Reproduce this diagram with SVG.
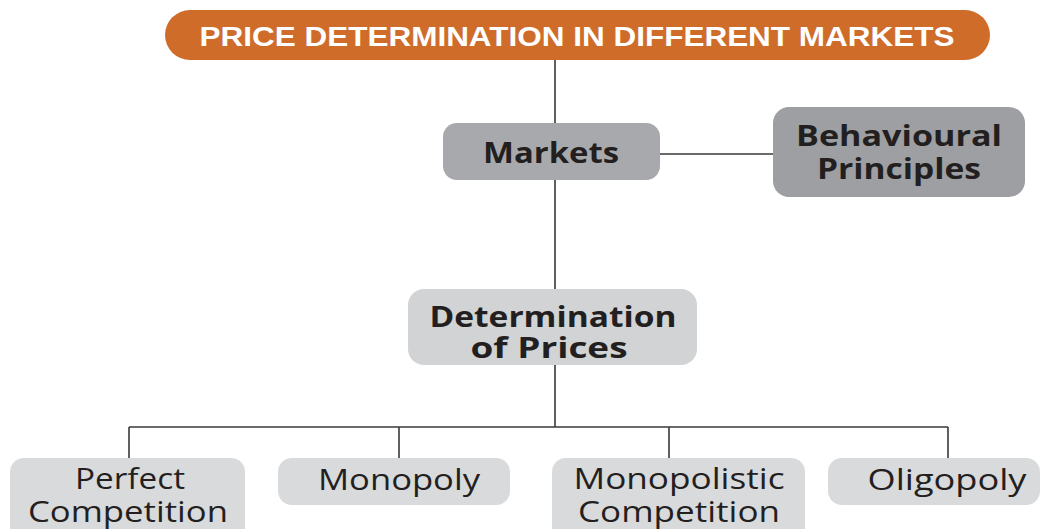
<svg xmlns="http://www.w3.org/2000/svg" width="1055" height="529" viewBox="0 0 1055 529">
<style>
.ln{stroke:#3a3a3a;stroke-width:1.6;fill:none}
.b{font-family:"Open Sans","Noto Sans",sans-serif;font-weight:bold;fill:#231f20;text-anchor:middle;font-size:29px}
.r{font-family:"Open Sans","Noto Sans",sans-serif;fill:#231f20;text-anchor:middle;font-size:30px}
</style>
<rect width="1055" height="529" fill="#ffffff"/>
<g id="connectors">
<path class="ln" d="M555 60V123M660 154H773M555 180V289M555 365V427M129 427H948M129 427V458M399 427V458M669 427V458M948 427V458"/>
</g>
<g id="title">
<rect x="165" y="10" width="825" height="50" rx="25" fill="#cf6c2a"/>
<text x="577" y="46" font-family="Liberation Sans,Arial,sans-serif" font-weight="bold" font-size="27" fill="#ffffff" text-anchor="middle" textLength="755" lengthAdjust="spacingAndGlyphs">PRICE DETERMINATION IN DIFFERENT MARKETS</text>
</g>
<g id="markets">
<rect x="443" y="123" width="217" height="57" rx="14" fill="#a7a9ac"/>
<text class="b" x="551" y="163" textLength="136" lengthAdjust="spacingAndGlyphs">Markets</text>
</g>
<g id="behavioural">
<rect x="773" y="107" width="252" height="90" rx="16" fill="#9d9fa2"/>
<text class="b" x="899" y="146" textLength="206" lengthAdjust="spacingAndGlyphs">Behavioural</text>
<text class="b" x="899" y="179" textLength="164" lengthAdjust="spacingAndGlyphs">Principles</text>
</g>
<g id="determination">
<rect x="408" y="289" width="289" height="76" rx="16" fill="#d1d3d4"/>
<text class="b" x="553" y="327" textLength="247" lengthAdjust="spacingAndGlyphs">Determination</text>
<text class="b" x="549" y="358" textLength="157" lengthAdjust="spacingAndGlyphs">of Prices</text>
</g>
<g id="perfect">
<rect x="10" y="458" width="235" height="90" rx="14" fill="#d9dadb"/>
<text class="r" x="130" y="489" textLength="110" lengthAdjust="spacingAndGlyphs">Perfect</text>
<text class="r" x="128" y="522" textLength="200" lengthAdjust="spacingAndGlyphs">Competition</text>
</g>
<g id="monopoly">
<rect x="278" y="458" width="232" height="47" rx="14" fill="#d9dadb"/>
<text class="r" x="399" y="490" textLength="162" lengthAdjust="spacingAndGlyphs">Monopoly</text>
</g>
<g id="monopolistic">
<rect x="552" y="458" width="253" height="90" rx="14" fill="#d9dadb"/>
<text class="r" x="679" y="489" textLength="211" lengthAdjust="spacingAndGlyphs">Monopolistic</text>
<text class="r" x="679" y="522" textLength="202" lengthAdjust="spacingAndGlyphs">Competition</text>
</g>
<g id="oligopoly">
<rect x="828" y="458" width="212" height="47" rx="14" fill="#d9dadb"/>
<text class="r" x="947" y="490" textLength="159" lengthAdjust="spacingAndGlyphs">Oligopoly</text>
</g>
</svg>
